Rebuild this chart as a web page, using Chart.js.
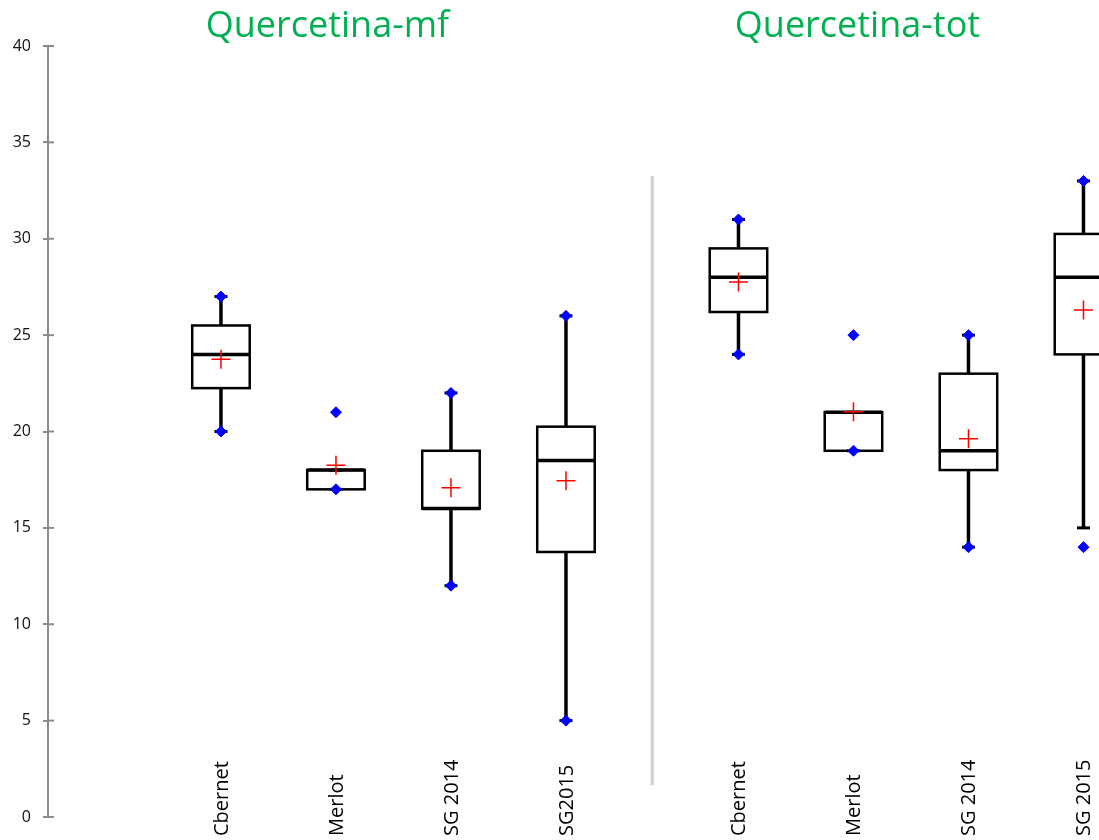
<!DOCTYPE html>
<html>
<head>
<meta charset="utf-8">
<script src="https://cdn.jsdelivr.net/npm/chart.js@4/dist/chart.umd.min.js"></script>
<style>
  html, body { margin: 0; padding: 0; background: #fff; overflow: hidden; }
  canvas { display: block; }
</style>
</head>
<body>
<canvas id="quercetinaChart" width="1099" height="840"></canvas>
<script>
'use strict';

const categories = ['Cbernet', 'Merlot', 'SG 2014', 'SG2015', 'Cbernet', 'Merlot', 'SG 2014', 'SG 2015'];
const groupTitles = ['Quercetina-mf', 'Quercetina-tot'];

const whiskerLow = [20, 17, 12, 5, 24, 19, 14, 15];
const q1 = [22.25, 17, 16, 13.75, 26.2, 19, 18, 24];
const median = [24, 18, 16, 18.5, 28, 21, 19, 28];
const q3 = [25.5, 18, 19, 20.25, 29.5, 21, 23, 30.25];
const whiskerHigh = [27, 18, 22, 26, 31, 21, 25, 33];
const minimum = [20, 17, 12, 5, 24, 19, 14, 14];
const maximum = [27, 21, 22, 26, 31, 25, 25, 33];
const mean = [23.75, 18.25, 17.08, 17.45, 27.75, 21.03, 19.63, 26.3];

const yTicks = [0, 5, 10, 15, 20, 25, 30, 35, 40];

// slot on the x scale, half a slot of gap between the two groups
const slotOf = i => i + 1 + (i >= 4 ? 0.5 : 0);
const points = values => values.map((v, i) => ({x: slotOf(i), y: v}));

const boxPlotPlugin = {
    id: 'boxPlot',
    beforeDatasetsDraw(chart) {
        const {ctx, scales: {x, y}} = chart;
        const line = (x1, y1, x2, y2) => {
            ctx.beginPath();
            ctx.moveTo(x1, y1);
            ctx.lineTo(x2, y2);
            ctx.stroke();
        };
        ctx.save();

        // divider between the two panels
        ctx.strokeStyle = '#cfcfcf';
        ctx.lineWidth = 3;
        const dx = x.getPixelForValue(4.75);
        line(dx, y.getPixelForValue(33.25), dx, y.getPixelForValue(1.65));

        ctx.strokeStyle = '#000';
        categories.forEach((c, i) => {
            const cx = x.getPixelForValue(slotOf(i));
            const half = x.getPixelForValue(slotOf(i) + 0.25) - cx;
            const cap = 6.5;
            const yLo = y.getPixelForValue(whiskerLow[i]);
            const yQ1 = y.getPixelForValue(q1[i]);
            const yMed = y.getPixelForValue(median[i]);
            const yQ3 = y.getPixelForValue(q3[i]);
            const yHi = y.getPixelForValue(whiskerHigh[i]);

            ctx.lineWidth = 3.5;
            line(cx, yQ3, cx, yHi);
            line(cx, yQ1, cx, yLo);
            ctx.lineWidth = 3;
            line(cx - cap, yHi, cx + cap, yHi);
            line(cx - cap, yLo, cx + cap, yLo);

            ctx.lineWidth = 2.5;
            ctx.strokeRect(cx - half, yQ3, 2 * half, yQ1 - yQ3);
            ctx.lineWidth = 3.5;
            line(cx - half, yMed, cx + half, yMed);
        });
        ctx.restore();
    },
    afterDraw(chart) {
        const {ctx, chartArea, scales: {x, y}} = chart;
        ctx.save();

        // inner half of the crossing tick marks
        ctx.strokeStyle = '#8c8c8c';
        ctx.lineWidth = 2;
        yTicks.forEach(v => {
            const py = y.getPixelForValue(v);
            ctx.beginPath();
            ctx.moveTo(chartArea.left, py);
            ctx.lineTo(chartArea.left + 6, py);
            ctx.stroke();
        });

        // panel titles
        ctx.fillStyle = '#00b050';
        ctx.font = '36px "Open Sans"';
        ctx.textAlign = 'center';
        ctx.textBaseline = 'alphabetic';
        ctx.fillText(groupTitles[0], x.getPixelForValue(1.926), 37);
        ctx.fillText(groupTitles[1], x.getPixelForValue(6.535), 37);

        // rotated category labels
        ctx.fillStyle = '#000';
        ctx.font = '20px "Open Sans"';
        ctx.textAlign = 'left';
        categories.forEach((c, i) => {
            ctx.save();
            ctx.translate(x.getPixelForValue(slotOf(i)) + 7, 836);
            ctx.rotate(-Math.PI / 2);
            ctx.fillText(c, 0, 0);
            ctx.restore();
        });
        ctx.restore();
    }
};

new Chart(document.querySelector('#quercetinaChart'), {
    type: 'scatter',
    data: {
        datasets: [
            {
                label: 'Minimum',
                data: points(minimum),
                pointStyle: 'rectRot',
                pointRadius: 5.5,
                backgroundColor: '#0000ff',
                borderColor: '#0000ff',
                borderWidth: 1
            },
            {
                label: 'Maximum',
                data: points(maximum),
                pointStyle: 'rectRot',
                pointRadius: 5.5,
                backgroundColor: '#0000ff',
                borderColor: '#0000ff',
                borderWidth: 1
            },
            {
                label: 'Mean',
                data: points(mean),
                pointStyle: 'cross',
                pointRadius: 9.5,
                borderColor: '#ff0000',
                borderWidth: 1.5
            }
        ]
    },
    options: {
        responsive: false,
        animation: false,
        layout: {
            autoPadding: false,
            padding: {top: 46, bottom: 23, left: 0, right: 0}
        },
        plugins: {
            legend: {display: false},
            tooltip: {enabled: false}
        },
        scales: {
            x: {
                type: 'linear',
                display: false,
                min: -0.504,
                max: 8.635
            },
            y: {
                min: 0,
                max: 40,
                afterBuildTicks: scale => {
                    scale.ticks = yTicks.map(v => ({value: v}));
                },
                afterFit: scale => {
                    scale.width = 48;
                },
                ticks: {
                    padding: 12,
                    color: '#111',
                    font: {family: 'Open Sans', size: 16}
                },
                grid: {
                    drawOnChartArea: false,
                    tickLength: 5,
                    color: '#8c8c8c',
                    lineWidth: 2
                },
                border: {
                    color: '#8c8c8c',
                    width: 2
                }
            }
        }
    },
    plugins: [boxPlotPlugin]
});
</script>
</body>
</html>
